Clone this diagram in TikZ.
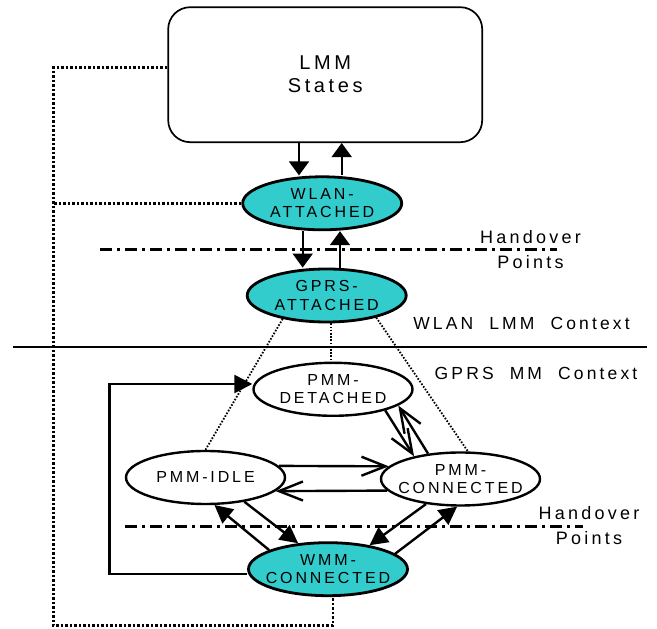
\documentclass[tikz,border=0pt]{standalone}
\usepackage{fontspec}
\setmainfont{Liberation Sans}[LetterSpace=18]
\usepackage{xcolor}
\usetikzlibrary{arrows.meta,shapes.geometric}
\definecolor{stcyan}{HTML}{33CCCC}
\tikzset{
	lmmbox/.style={draw, line width=1.7pt, rounded corners=22pt, minimum width=314pt, minimum height=135pt, align=center, font=\fontsize{20}{23}\selectfont},
	state/.style={ellipse, draw, line width=2.4pt, fill=white, inner xsep=-12pt, inner ysep=0pt, minimum width=159pt, minimum height=53pt, align=center, font=\fontsize{16}{18.5}\selectfont},
	wlanstate/.style={state, fill=stcyan, line width=2.8pt},
	ctx/.style={font=\fontsize{17.5}{21}\selectfont},
	hop/.style={align=center, font=\fontsize{18}{25}\selectfont},
	trans/.style={line width=1.7pt, -{Triangle[length=14pt,width=20pt]}},
	move/.style={line width=2.4pt, -{Triangle[length=18pt,width=18pt]}},
	pmmmove/.style={line width=2.4pt, -{Straight Barb[length=24pt,width=19pt]}},
	holine/.style={line width=3pt, dash pattern=on 12pt off 5pt on 3pt off 5pt},
	loopdots/.style={line width=2.8pt, dash pattern=on 2.5pt off 2pt},
	mapdots/.style={line width=1.8pt, dash pattern=on 1.6pt off 1.6pt}
}

\begin{document}
\begin{tikzpicture}[x=1pt, y=1pt]
	\useasboundingbox (0,0) rectangle (657,629);
	% states
	\node[lmmbox] (lmm) at (325.2,554.3) {LMM\\States};
	\node[wlanstate] (wlan) at (322.2,425.7) {WLAN-\\ATTACHED};
	\node[wlanstate] (gprs) at (326.7,333.5) {GPRS-\\ATTACHED};
	\node[state] (det) at (333,239.7) {PMM-\\DETACHED};
	\node[state] (idle) at (205.5,151.5) {PMM-IDLE};
	\node[state] (conn) at (460.5,150) {PMM-\\CONNECTED};
	\node[wlanstate] (wmm) at (328,59.8) {WMM-\\CONNECTED};

	\node[ctx] (wlanctx) at (521.5,306) {WLAN\ \ LMM\ \ Context};
	\node[ctx] (gprsctx) at (536,256) {GPRS\ \ MM\ \ Context};
	\node[hop] (hotop) at (530.5,379.5) {Handover\\Points};
	\node[hop] (hobot) at (589,103.5) {Handover\\Points};

	\draw[holine] (100,379) -- (557,379);
	\draw[holine] (125,102) -- (583,102);
	\draw[line width=1.7pt] (13,282) -- (647,282);

	\draw[trans] ([xshift=-26.2]lmm.south) -- ([xshift=-23.2]wlan.north);
	\draw[trans] ([xshift=19.5]wlan.north) -- ([xshift=16.5]lmm.south);
	\draw[trans] ([xshift=-19.5]wlan.south) -- ([xshift=-24]gprs.north);
	\draw[trans] ([xshift=13.3]gprs.north) -- ([xshift=17.8]wlan.south);

	\draw[mapdots] (gprs.208) -- (idle.north);
	\draw[mapdots] ([xshift=4]gprs.south) -- ([xshift=-2.3]det.north);
	\draw[mapdots] (gprs.336) -- (conn.75);

	% dotted links back to LMM
	\coordinate (lp) at (53.3,3.5);
	\draw[loopdots] ([yshift=7]lmm.west) -| (lp) -| ([xshift=5]wmm.south);
	\draw[loopdots] (wlan.west) -- (wlan.west -| lp);

	\coordinate (lc) at (109.3,245);
	\draw[move] ([yshift=-4.8]wmm.west) -| (lc) -- ([yshift=5.3]det.west);

	\draw[move] (idle.-32) -- (wmm.139);
	\draw[move] (wmm.162) -- (idle.-72);
	\draw[move] (conn.216) -- (wmm.30);
	\draw[move] (wmm.13) -- (conn.263);
	\draw[pmmmove] (det.-22) -- (conn.154);
	\draw[pmmmove] (conn.142) -- (det.-14);
	\draw[pmmmove] (idle.9) -- (conn.170);
	\draw[pmmmove] (conn.189) -- (idle.-11);
\end{tikzpicture}
\end{document}
